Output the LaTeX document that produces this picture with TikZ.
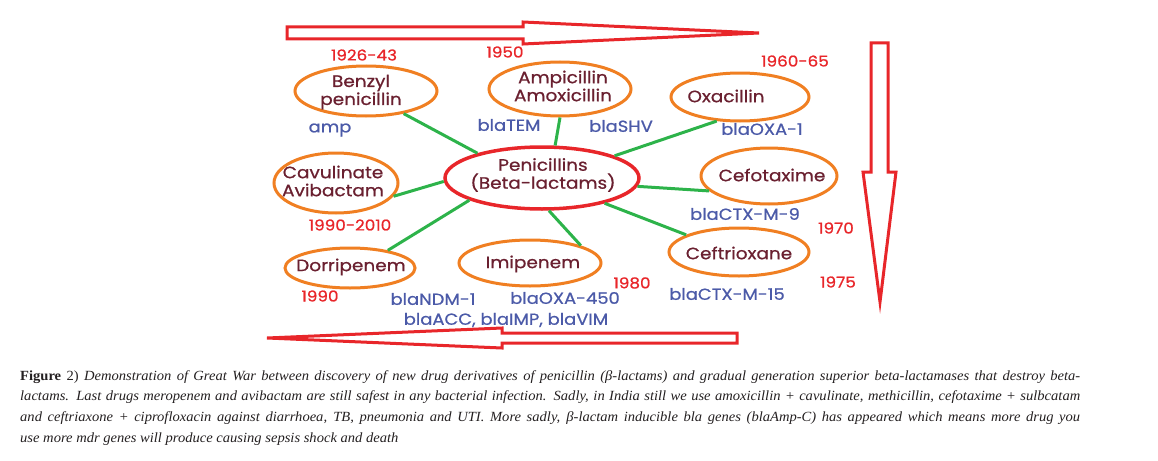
\documentclass[tikz,border=0pt]{standalone}
\usepackage{fontspec}
\setmainfont{Liberation Serif}
\newfontfamily\dfont[FakeStretch=1.12, FakeBold=0.8]{Poppins}
\newfontfamily\capfont[FakeStretch=1.04]{Liberation Serif}
\usetikzlibrary{shapes.geometric}
\definecolor{cOr}{HTML}{F07F22}
\definecolor{cRed}{HTML}{E8262A}
\definecolor{cGr}{HTML}{2DB34A}
\definecolor{cTx}{HTML}{6A2030}
\definecolor{cBl}{HTML}{4B5AA8}
\definecolor{cCap}{HTML}{231F20}
\newcommand\capline[1]{\makebox[1060pt][s]{#1}}
\tikzset{
  ell/.style={ellipse, draw=cOr, line width=3pt, inner sep=0pt},
  cen/.style={ellipse, draw=cRed, line width=3.5pt, inner sep=0pt},
  txt/.style={font=\dfont\fontsize{16.5}{18}\selectfont, text=cTx, align=center, inner sep=0pt},
  yr/.style={font=\dfont\fontsize{15}{16}\selectfont, text=cRed, inner sep=0pt},
  gene/.style={font=\dfont\fontsize{16}{17}\selectfont, text=cBl, inner sep=0pt},
  conn/.style={draw=cGr, line width=3pt},
  bigarrow/.style={draw=cRed, line width=3pt, fill=white, line join=miter},
  capt/.style={anchor=north west, inner sep=0pt, text=cCap, align=left,
      font=\capfont\fontsize{14}{20.7}\selectfont}
}
\begin{document}
\begin{tikzpicture}[x=1pt,y=-1pt]
\useasboundingbox (0,0) rectangle (1158,460);
% big arrows
\draw[bigarrow] (287,27) -- (523,27) -- (523,22) -- (759,33) -- (523,44) -- (523,39) -- (287,39) -- cycle;
\draw[bigarrow] (871,43) -- (888,43) -- (888,172) -- (896,172) -- (880,302) -- (863,172) -- (871,172) -- cycle;
\draw[bigarrow] (737,333) -- (502,333) -- (502,328) -- (267,338) -- (502,348) -- (502,343) -- (737,343) -- cycle;
% ellipses
\node[cen, minimum width=194pt, minimum height=62pt] (pen) at (542,178) {};
\node[ell, minimum width=142pt, minimum height=50pt] (benz) at (366,91) {};
\node[ell, minimum width=142pt, minimum height=54pt] (amp) at (560,89) {};
\node[ell, minimum width=138pt, minimum height=48pt] (oxa) at (740,97) {};
\node[ell, minimum width=136pt, minimum height=56pt] (cefo) at (769,176) {};
\node[ell, minimum width=140pt, minimum height=48pt] (ceftr) at (739,252) {};
\node[ell, minimum width=124pt, minimum height=60pt] (cavu) at (336,183) {};
\node[ell, minimum width=130pt, minimum height=40pt] (dorri) at (350,268) {};
\node[ell, minimum width=142pt, minimum height=46pt] (imi) at (530,263) {};
% texts in ellipses
\node[txt] (penT) at (543,175) {Penicillins\\(Beta-lactams)};
\node[txt] (benzT) at (361,92) {Benzyl\\penicillin};
\node[txt] (ampT) at (563,86) {Ampicillin\\Amoxicillin};
\node[txt] (oxaT) at (726,96) {Oxacillin};
\node[txt] (cefoT) at (772,175) {Cefotaxime};
\node[txt] (ceftrT) at (739,253) {Ceftrioxane};
\node[txt] (cavuT) at (333,181) {Cavulinate\\Avibactam};
\node[txt] (dorriT) at (351,267) {Dorripenem};
\node[txt] (imiT) at (533,264) {Imipenem};
% connectors
\draw[conn] (pen.159) -- (benz.-31.5);
\draw[conn] (pen.68) -- (amp.-90);
\draw[conn] (pen.17) -- (oxa.-134);
\draw[conn] (pen.-5.5) -- (cefo.194);
\draw[conn] (pen.-22) -- (ceftr.162);
\draw[conn] (pen.182) -- (cavu.-13);
\draw[conn] (pen.197) -- (dorri.25.5);
\draw[conn] (pen.-78) -- (imi.19);
% years
\node[yr] (y1) at (364,55) {1926-43};
\node[yr] (y2) at (505,52) {1950};
\node[yr] (y3) at (795,61) {1960-65};
\node[yr] (y4) at (350,225) {1990-2010};
\node[yr] (y5) at (320,296) {1990};
\node[yr] (y6) at (632,283) {1980};
\node[yr] (y7) at (836,228) {1970};
\node[yr] (y8) at (838,282) {1975};
% genes
\node[gene] (g1) at (330,130) {amp};
\node[gene] (g2) at (509,125) {blaTEM};
\node[gene] (g3) at (621,126) {blaSHV};
\node[gene] (g4) at (762,129) {blaOXA-1};
\node[gene] (g5) at (745,214) {blaCTX-M-9};
\node[gene] (g6) at (727,294) {blaCTX-M-15};
\node[gene] (g7) at (433,299) {blaNDM-1};
\node[gene] (g8) at (565,298) {blaOXA-450};
\node[gene] (g9) at (506,320) {blaACC, blaIMP, blaVIM};
% caption
\node[capt] (cap) at (20,370)
{\capline{\textbf{Figure} 2) \textit{Demonstration of Great War between discovery of new drug derivatives of penicillin (β-lactams) and gradual generation superior beta-lactamases that destroy beta-}}\\
\capline{\textit{lactams. Last drugs meropenem and avibactam are still safest in any bacterial infection. Sadly, in India still we use amoxicillin + cavulinate, methicillin, cefotaxime + sulbcatam}}\\
\capline{\textit{and ceftriaxone + ciprofloxacin against diarrhoea, TB, pneumonia and UTI. More sadly, β-lactam inducible bla genes (blaAmp-C) has appeared which means more drug you}}\\
\textit{use more mdr genes will produce causing sepsis shock and death}};
\end{tikzpicture}
\end{document}
